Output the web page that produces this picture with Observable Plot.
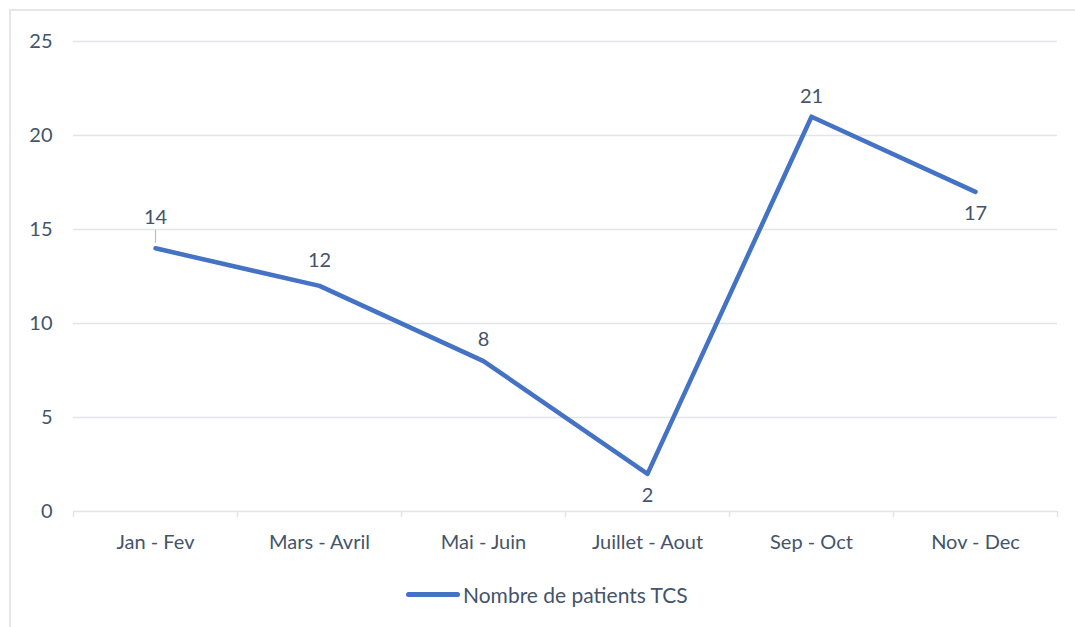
<!DOCTYPE html>
<html><head><meta charset="utf-8">
<script src="https://cdn.jsdelivr.net/npm/d3@7"></script>
<script src="https://cdn.jsdelivr.net/npm/@observablehq/plot@0.6"></script>
<style>
body{margin:0;background:#fff;font-family:Lato,"Open Sans",sans-serif;}
#wrap{position:relative;width:1075px;height:627px;overflow:hidden;background:#fff;}
#frame{position:absolute;left:9px;top:9px;width:1200px;height:800px;border-top:2px solid #e3e6ea;border-left:2px solid #e3e6ea;}
#chart{position:absolute;left:0;top:0;}
#legend{position:absolute;left:406px;top:582px;display:flex;align-items:center;font-size:21px;color:#44546a;}
#legend .sw{width:54px;height:5px;border-radius:3px;background:#4472c4;margin-right:3px;}
</style></head>
<body>
<div id="wrap"><div id="frame"></div><div id="chart"></div>
<div id="legend"><span class="sw"></span><span class="lb"></span></div></div>
<script>
const categories = ["Jan - Fev", "Mars - Avril", "Mai - Juin", "Juillet - Aout", "Sep - Oct", "Nov - Dec"];
const values = [14, 12, 8, 2, 21, 17];
const seriesName = "Nombre de patients TCS";
const yTicks = [0, 5, 10, 15, 20, 25];

const data = categories.map((c, i) => ({cat: c, v: values[i], i}));
const blue = "#4472c4", txt = "#44546a", grid = "#e1e4e8";
const fs = 20;

const chart = Plot.plot({
  width: 1075, height: 570,
  marginLeft: 73, marginRight: 18, marginTop: 41, marginBottom: 59,
  style: {fontFamily: "Lato, 'Open Sans', sans-serif", fontSize: fs + "px", color: txt, background: "transparent"},
  x: {type: "band", domain: categories, padding: 0, label: null},
  y: {domain: [0, 25], label: null},
  marks: [
    Plot.gridY(yTicks, {stroke: grid, strokeOpacity: 1, strokeWidth: 1.5}),
    Plot.axisY(yTicks, {tickSize: 0, tickPadding: 0, dx: -21, fill: txt, fontSize: fs}),
    Plot.axisX({tickSize: 0, tickPadding: 23, fill: txt, fontSize: fs}),
    Plot.axisX({text: null, tickSize: 6, dx: -82, stroke: grid, strokeWidth: 1.5}),
    Plot.axisX([categories[categories.length - 1]], {text: null, tickSize: 6, dx: 82, stroke: grid, strokeWidth: 1.5}),
    Plot.ruleX(data.filter(d => d.i === 0), {x: "cat", y1: "v", y2: "v", insetTop: -18, insetBottom: 5, stroke: "#b8bcc4", strokeWidth: 1.2}),
    Plot.line(data, {x: "cat", y: "v", stroke: blue, strokeWidth: 4.5, strokeLinecap: "round", strokeLinejoin: "round"}),
    Plot.text(data.filter(d => d.i === 0), {x: "cat", y: "v", text: d => String(d.v), dy: -31, fill: txt, fontSize: fs}),
    Plot.text(data.filter(d => d.i === 1), {x: "cat", y: "v", text: d => String(d.v), dy: -25, fill: txt, fontSize: fs}),
    Plot.text(data.filter(d => d.i === 2), {x: "cat", y: "v", text: d => String(d.v), dy: -22, fill: txt, fontSize: fs}),
    Plot.text(data.filter(d => d.i === 4), {x: "cat", y: "v", text: d => String(d.v), dy: -20, fill: txt, fontSize: fs}),
    Plot.text(data.filter(d => d.i === 3 || d.i === 5), {x: "cat", y: "v", text: d => String(d.v), dy: 22, fill: txt, fontSize: fs})
  ]
});
document.getElementById("chart").appendChild(chart);
document.querySelector("#legend .lb").textContent = seriesName;
</script>
</body></html>
